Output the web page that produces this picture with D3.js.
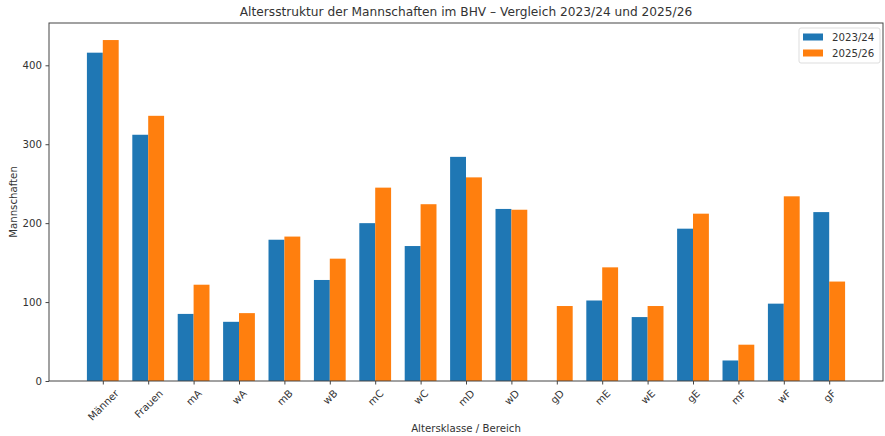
<!DOCTYPE html>
<html>
<head>
<meta charset="utf-8">
<script src="https://cdn.jsdelivr.net/npm/d3@7"></script>
<style>
  body { margin: 0; background: #fff; }
  svg text { font-family: 'DejaVu Sans', sans-serif; fill: #333; }
</style>
</head>
<body>
<div id="chart"></div>
<script>
const categories = ['Männer', 'Frauen', 'mA', 'wA', 'mB', 'wB', 'mC', 'wC', 'mD', 'wD', 'gD', 'mE', 'wE', 'gE', 'mF', 'wF', 'gF'];
const season2324 = [416, 312, 85, 75, 179, 128, 200, 171, 284, 218, 0, 102, 81, 193, 26, 98, 214];
const season2526 = [432, 336, 122, 86, 183, 155, 245, 224, 258, 217, 95, 144, 95, 212, 46, 234, 126];
const seriesNames = ['2023/24', '2025/26'];
const yTicks = [0, 100, 200, 300, 400];

const width = 885, height = 436;
const margin = { top: 23, right: 2, bottom: 55, left: 49 };
const colors = ['#1f77b4', '#ff7f0e'];
const barW = 0.35;
const fs = 10.2;

const svg = d3.select('#chart').append('svg')
  .attr('width', width)
  .attr('height', height);

const x = d3.scaleLinear()
  .domain([-1.185, categories.length - 1 + 1.185])
  .range([margin.left, width - margin.right]);

const yMax = d3.max(season2324.concat(season2526)) * 1.05;
const y = d3.scaleLinear()
  .domain([0, yMax])
  .range([height - margin.bottom, margin.top]);

// bars
const series = [season2324, season2526];
series.forEach((vals, s) => {
  svg.append('g')
    .selectAll('rect')
    .data(vals)
    .join('rect')
      .attr('x', (d, i) => x(i + (s === 0 ? -barW : 0)))
      .attr('width', x(barW) - x(0))
      .attr('y', d => y(d))
      .attr('height', d => y(0) - y(d))
      .attr('fill', colors[s]);
});

// frame
svg.append('rect')
  .attr('x', margin.left)
  .attr('y', margin.top)
  .attr('width', width - margin.right - margin.left)
  .attr('height', height - margin.bottom - margin.top)
  .attr('fill', 'none')
  .attr('stroke', '#444')
  .attr('stroke-width', 1);

// y axis
const yAxis = svg.append('g')
  .attr('transform', `translate(${margin.left},0)`)
  .call(d3.axisLeft(y).tickValues(yTicks).tickSize(3.5).tickPadding(3.5));
yAxis.select('.domain').remove();
yAxis.selectAll('line').attr('stroke', '#444');
yAxis.selectAll('text')
  .style('font-size', fs + 'px')
  .attr('fill', '#333');

// x axis
const xAxis = svg.append('g')
  .attr('transform', `translate(0,${y(0)})`)
  .call(d3.axisBottom(x).tickValues(d3.range(categories.length)).tickSize(3.5).tickFormat(i => categories[i]));
xAxis.select('.domain').remove();
xAxis.selectAll('line').attr('stroke', '#444');
xAxis.selectAll('text')
  .style('font-size', fs + 'px')
  .attr('fill', '#333')
  .attr('text-anchor', 'middle')
  .attr('dominant-baseline', 'central')
  .attr('dy', null)
  .attr('y', null)
  .each(function() {
    const w = this.getComputedTextLength();
    const off = 7 + (w + fs) / (2 * Math.SQRT2);
    d3.select(this).attr('transform', `translate(0,${off}) rotate(-45)`);
  });

// axis labels
svg.append('text')
  .attr('x', (margin.left + width - margin.right) / 2)
  .attr('y', 432)
  .attr('text-anchor', 'middle')
  .style('font-size', fs + 'px')
  .text('Altersklasse / Bereich');

svg.append('text')
  .attr('transform', `translate(16.5,${(margin.top + height - margin.bottom) / 2}) rotate(-90)`)
  .attr('text-anchor', 'middle')
  .style('font-size', fs + 'px')
  .text('Mannschaften');

// title
svg.append('text')
  .attr('x', (margin.left + width - margin.right) / 2)
  .attr('y', 16)
  .attr('text-anchor', 'middle')
  .style('font-size', '12.2px')
  .text('Altersstruktur der Mannschaften im BHV – Vergleich 2023/24 und 2025/26');

// legend
const legend = svg.append('g').attr('transform', 'translate(799,28)');
legend.append('rect')
  .attr('width', 81)
  .attr('height', 35)
  .attr('rx', 2)
  .attr('fill', '#fff')
  .attr('fill-opacity', 0.8)
  .attr('stroke', '#ddd');
seriesNames.forEach((name, i) => {
  legend.append('rect')
    .attr('x', 4)
    .attr('y', 5.5 + i * 16)
    .attr('width', 20)
    .attr('height', 7)
    .attr('fill', colors[i]);
  legend.append('text')
    .attr('x', 33)
    .attr('y', 9 + i * 16)
    .attr('dominant-baseline', 'central')
    .style('font-size', fs + 'px')
    .text(name);
});
</script>
</body>
</html>
